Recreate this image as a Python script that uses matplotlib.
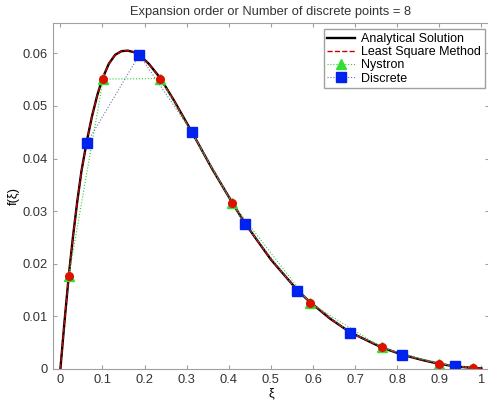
import numpy as np
import matplotlib
matplotlib.use("Agg")
import matplotlib.pyplot as plt

plt.rcParams.update({
    "font.family": ["Liberation Sans", "DejaVu Sans"], "font.size": 9.3,
    "axes.edgecolor": "#a0a0a0", "xtick.color": "#a0a0a0",
    "ytick.color": "#a0a0a0", "xtick.labelcolor": "#333333",
    "ytick.labelcolor": "#333333", "mathtext.fontset": "dejavusans",
})

# analytical solution
xi = [0.0, 0.01, 0.02, 0.03, 0.04, 0.05, 0.0625, 0.075, 0.0875, 0.10, 0.115,
      0.13, 0.145, 0.16, 0.175, 0.1875, 0.21, 0.2372, 0.27, 0.3125, 0.36,
      0.4083, 0.4375, 0.50, 0.5625, 0.5917, 0.64, 0.6875, 0.7628, 0.8125,
      0.86, 0.8983, 0.9375, 0.9801, 1.0]
f_exact = [0.0, 0.0092, 0.0178, 0.0252, 0.0318, 0.0376, 0.0432, 0.0480,
           0.0520, 0.0552, 0.0580, 0.0597, 0.0604, 0.0605, 0.0602, 0.0597,
           0.0580, 0.0553, 0.0510, 0.0450, 0.0381, 0.0316, 0.0278, 0.0208,
           0.0150, 0.0128, 0.0096, 0.0070, 0.0041, 0.0027, 0.0017, 0.0010,
           0.0005, 0.0002, 0.0001]
f_lsq = f_exact

# Nystrom (Gauss nodes) and discrete (midpoints)
xi_nys = [0.0199, 0.1017, 0.2372, 0.4083, 0.5917, 0.7628, 0.8983, 0.9801]
f_nys = [0.0177, 0.0551, 0.0552, 0.0315, 0.0126, 0.0041, 0.0010, 0.0002]
xi_dis = [0.0625, 0.1875, 0.3125, 0.4375, 0.5625, 0.6875, 0.8125, 0.9375]
f_dis = [0.0429, 0.0597, 0.0450, 0.0276, 0.0148, 0.0069, 0.0027, 0.0005]

fig = plt.figure(figsize=(4.89, 4.07), dpi=100)
ax = fig.add_axes([0.108, 0.0934, 0.892, 0.8494])

ax.plot(xi, f_exact, color="k", lw=1.7, label="Analytical Solution")
ax.plot(xi, f_lsq, color="#cc0000", lw=1.0, ls="--", label="Least Square Method")
ax.plot(xi_nys, f_nys, color="#33cc33", lw=0.8, ls=":", marker="^", ms=7.5,
        mfc="#33dd33", mec="#33dd33", label="Nystron")
ax.plot(xi_dis, f_dis, color="#6677aa", lw=0.8, ls=":", marker="s", ms=7,
        mfc="#0022ee", mec="#0022ee", label="Discrete")
ax.plot(xi_nys, f_nys, ls="none", marker="o", ms=5.5, color="#dd1100")

ax.set_xlim(-0.018, 1.018)
ax.set_ylim(0, 0.0657)
ax.set_xticks(np.arange(0, 1.01, 0.1))
ax.set_xticklabels(["0", "0.1", "0.2", "0.3", "0.4", "0.5", "0.6", "0.7",
                    "0.8", "0.9", "1"])
ax.set_yticks([0, 0.01, 0.02, 0.03, 0.04, 0.05, 0.06])
ax.set_yticklabels(["0", "0.01", "0.02", "0.03", "0.04", "0.05", "0.06"])
ax.tick_params(direction="in", top=True, right=True, length=3)
ax.set_xlabel("ξ", labelpad=1)
ax.set_ylabel("f(ξ)", labelpad=2)
ax.set_title("Expansion order or Number of discrete points = 8", fontsize=9.3,
             color="#333333", pad=6)
ax.legend(loc="upper right", bbox_to_anchor=(0.996, 0.99), frameon=True,
          fancybox=False, edgecolor="#888888", fontsize=9, handlelength=2.2,
          borderpad=0.3, labelspacing=0.1, handletextpad=0.5,
          borderaxespad=0.2)

fig.savefig("out.png", dpi=100)
